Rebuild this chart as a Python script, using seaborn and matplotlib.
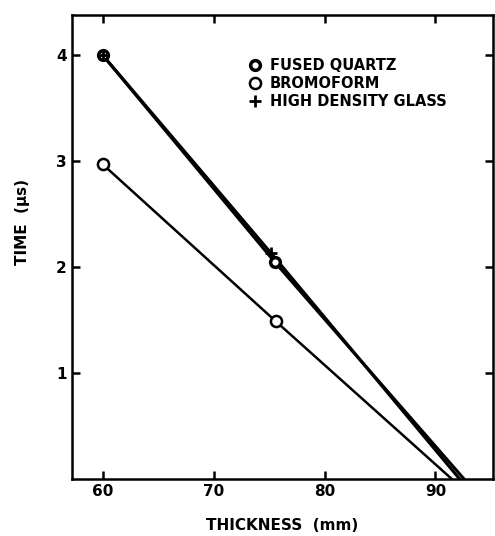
import seaborn as sns
import matplotlib.pyplot as plt
import pandas as pd

# thickness (mm) vs time (us)
thickness_quartz = [60, 75.5, 92.6]
time_quartz = [4.0, 2.05, 0.0]
thickness_bromo = [60, 75.6, 91.5]
time_bromo = [2.97, 1.49, 0.0]
thickness_glass = [60, 75.2, 92.2]
time_glass = [4.0, 2.13, 0.0]

labels = ['FUSED QUARTZ', 'BROMOFORM', 'HIGH DENSITY GLASS']
x_ticks = [60, 70, 80, 90]
y_ticks = [1, 2, 3, 4]

sns.set_theme(style="ticks")
plt.rcParams['font.family'] = ['DejaVu Sans']
plt.rcParams['font.weight'] = 'bold'
plt.rcParams['text.color'] = 'black'
plt.rcParams['axes.labelcolor'] = 'black'

f = plt.figure(figsize=(4.95, 5.36), dpi=100)
ax = f.add_axes([0.145, 0.106, 0.851, 0.866])

quartz = pd.DataFrame({'x': thickness_quartz, 'y': time_quartz})
bromo = pd.DataFrame({'x': thickness_bromo, 'y': time_bromo})
glass = pd.DataFrame({'x': thickness_glass, 'y': time_glass})

sns.lineplot(data=quartz, x='x', y='y', color='black', lw=2.2, ax=ax, legend=False)
sns.lineplot(data=glass, x='x', y='y', color='black', lw=2.2, ax=ax, legend=False)
sns.lineplot(data=bromo, x='x', y='y', color='black', lw=1.8, ax=ax, legend=False)

# markers only at measured points (not at the zero intercept)
ax.plot(quartz.x[:2], quartz.y[:2], ls='none', marker='o', ms=7, mfc='white',
        mec='black', mew=2.5, label=labels[0])
ax.plot(bromo.x[:2], bromo.y[:2], ls='none', marker='o', ms=8, mfc='white',
        mec='black', mew=1.8, label=labels[1])
ax.plot(glass.x[:2], glass.y[:2], ls='none', marker='+', ms=9,
        mec='black', mew=2, label=labels[2])

ax.set_xlim(57.2, 95.2)
ax.set_ylim(0, 4.38)
ax.set_xticks(x_ticks)
ax.set_yticks(y_ticks)
ax.set_xticklabels([str(t) for t in x_ticks], fontsize=11, fontweight='bold')
ax.set_yticklabels([str(t) for t in y_ticks], fontsize=11, fontweight='bold')
ax.tick_params(direction='in', length=6, width=1.8, top=True, right=True,
               color='black', labelcolor='black')
for s in ax.spines.values():
    s.set_linewidth(1.8)
    s.set_color('black')

ax.set_xlabel('THICKNESS  (mm)', fontsize=11, fontweight='bold', labelpad=14)
ax.set_ylabel('TIME  (\u03bcs)', fontsize=11, fontweight='bold')
ax.yaxis.set_label_coords(-0.10, 0.555)

ax.legend(loc='upper left', bbox_to_anchor=(0.39, 0.935), frameon=False,
          handlelength=0.8, handletextpad=0.6, labelspacing=0.2,
          prop={'size': 10.5, 'weight': 'bold'})

plt.savefig('out.png', dpi=100)
